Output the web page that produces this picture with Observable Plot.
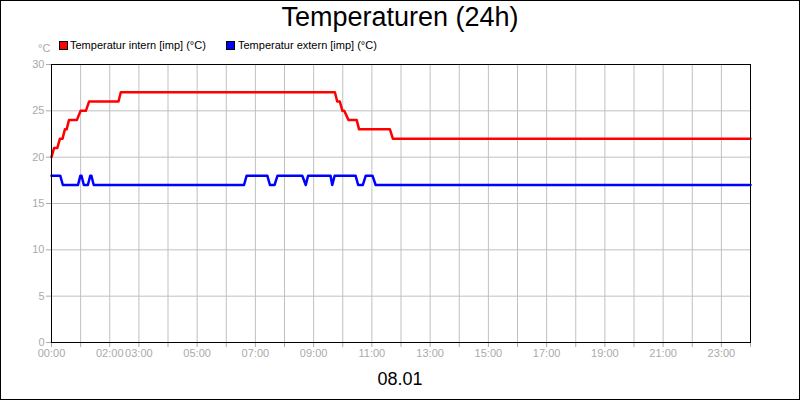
<!DOCTYPE html>
<html>
<head>
<meta charset="utf-8">
<script src="https://cdn.jsdelivr.net/npm/d3@7"></script>
<script src="https://cdn.jsdelivr.net/npm/@observablehq/plot@0.6"></script>
<style>
  html, body { margin: 0; padding: 0; background: #fff; }
  #wrap { position: relative; width: 800px; height: 400px; border: 1px solid #000; box-sizing: border-box; background: #fff; font-family: "Liberation Sans", Arial, sans-serif; overflow: hidden; }
  #title { height: 35px; padding-top: 3px; font-size: 27px; line-height: 27px; text-align: center; color: #000; }
  #legend { position: relative; height: 18px; font-size: 11px; line-height: 11px; color: #000; }
  #legend .sw { position: absolute; top: 2px; width: 7px; height: 7px; border: 1px solid #000; }
  #legend .lab { position: absolute; top: 1px; white-space: nowrap; }
  #legend .unit { position: absolute; top: 4px; left: 37px; color: #aaa; }
  #chart svg { display: block; }
  #footer { height: 28px; padding-top: 7px; font-size: 18px; line-height: 18px; text-align: center; color: #000; }
</style>
</head>
<body>
<div id="wrap">
  <div id="title"></div>
  <div id="legend"></div>
  <div id="chart"></div>
  <div id="footer"></div>
</div>
<script>
// ---- data ----
const titleText = "Temperaturen (24h)";
const footerText = "08.01";
const unitLabel = "°C";
const seriesNames = ["Temperatur intern [imp] (°C)", "Temperatur extern [imp] (°C)"];
const seriesColors = ["#ff0000", "#0000ff"];

// hours since 00:00 and temperatures (°C)
const internHours = [0, 0.09, 0.2, 0.29, 0.38, 0.46, 0.52, 0.6, 0.87, 1.0, 1.18, 1.29, 2.3, 2.38, 9.73, 9.81, 9.9, 9.99, 10.05, 10.2, 10.48, 10.56, 11.62, 11.72, 24];
const internTemps = [20, 21, 21, 22, 22, 23, 23, 24, 24, 25, 25, 26, 26, 27, 27, 26, 26, 25, 25, 24, 24, 23, 23, 22, 22];

const externHours = [0, 0.3, 0.39, 0.91, 0.99, 1.03, 1.11, 1.25, 1.33, 1.37, 1.45, 6.61, 6.70, 7.41, 7.50, 7.66, 7.76, 8.61, 8.73, 8.81, 9.58, 9.64, 9.72, 10.44, 10.53, 10.69, 10.79, 11.02, 11.13, 24];
const externTemps = [18, 18, 17, 17, 18, 18, 17, 17, 18, 18, 17, 17, 18, 18, 17, 17, 18, 18, 17, 18, 18, 17, 18, 18, 17, 17, 18, 18, 17, 17];

const yTicks = [0, 5, 10, 15, 20, 25, 30];
const xTickHours = [0, 2, 3, 5, 7, 9, 11, 13, 15, 17, 19, 21, 23];
const xTickLabels = ["00:00", "02:00", "03:00", "05:00", "07:00", "09:00", "11:00", "13:00", "15:00", "17:00", "19:00", "21:00", "23:00"];
const hourMarks = d3.range(0, 25);

// ---- build ----
document.getElementById("title").textContent = titleText;
document.getElementById("footer").textContent = footerText;

const legend = document.getElementById("legend");
const unit = document.createElement("span");
unit.className = "unit"; unit.textContent = unitLabel; legend.appendChild(unit);
const legendX = [[58, 69], [225, 237]];
seriesNames.forEach((name, i) => {
  const sw = document.createElement("span");
  sw.className = "sw"; sw.style.left = legendX[i][0] + "px"; sw.style.background = seriesColors[i];
  legend.appendChild(sw);
  const lab = document.createElement("span");
  lab.className = "lab"; lab.style.left = legendX[i][1] + "px"; lab.textContent = name;
  legend.appendChild(lab);
});

const intern = internHours.map((h, i) => ({h, t: internTemps[i]}));
const extern = externHours.map((h, i) => ({h, t: externTemps[i]}));
const labelMap = new Map(xTickHours.map((h, i) => [h, xTickLabels[i]]));

const chart = Plot.plot({
  width: 798,
  height: 306,
  marginTop: 7,
  marginLeft: 50,
  marginRight: 49,
  marginBottom: 21,
  style: {fontFamily: "'Liberation Sans', Arial, sans-serif", fontSize: "11px", background: "#fff"},
  x: {domain: [0, 24]},
  y: {domain: [0, 30]},
  marks: [
    Plot.gridY(yTicks, {stroke: "#c0c0c0", strokeOpacity: 1}),
    Plot.gridX(hourMarks.slice(1, -1), {stroke: "#c0c0c0", strokeOpacity: 1}),
    Plot.axisY(yTicks, {tickSize: 5, tickPadding: 2, color: "#aaa", label: null}),
    Plot.axisX(hourMarks, {tickSize: 5, tickPadding: 2, color: "#aaa", label: null,
      tickFormat: h => labelMap.get(h) ?? ""}),
    Plot.line(extern, {x: "h", y: "t", stroke: seriesColors[1], strokeWidth: 2.5}),
    Plot.line(intern, {x: "h", y: "t", stroke: seriesColors[0], strokeWidth: 2.5}),
    Plot.frame({stroke: "#000", strokeWidth: 1})
  ]
});
document.getElementById("chart").appendChild(chart);
</script>
</body>
</html>
